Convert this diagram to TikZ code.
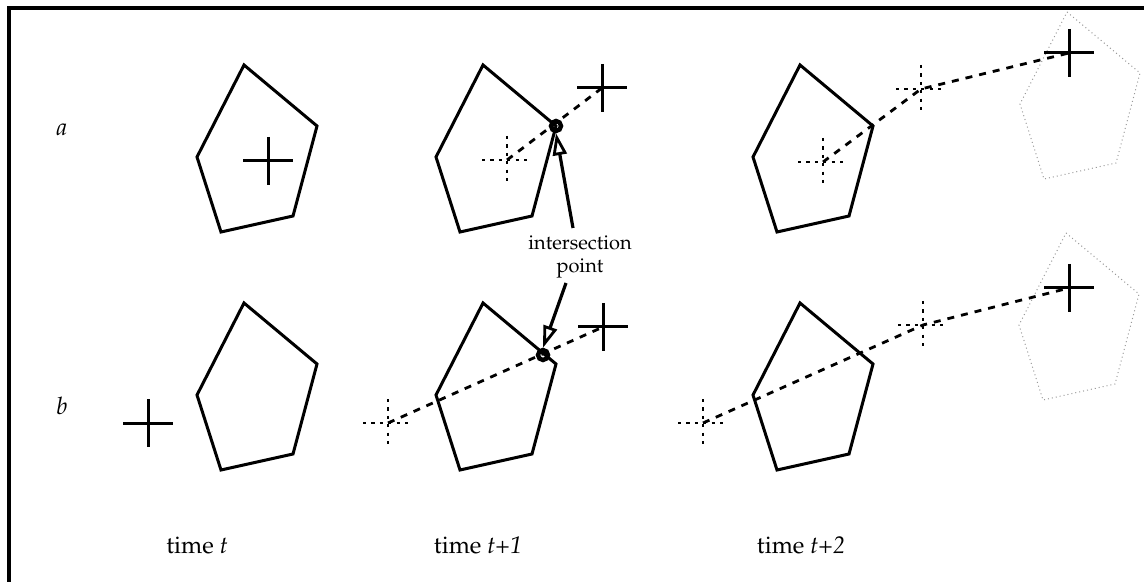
\documentclass[tikz,border=0pt]{standalone}
\usepackage[T1]{fontenc}
\usepackage{mathpazo}
\usetikzlibrary{arrows.meta}
\begin{document}
\begin{tikzpicture}[x=0.5pt,y=-0.5pt,
  solid line/.style={line width=1.5pt, line join=miter},
  ghost/.style={draw=black!40, line width=0.5pt, dash pattern=on 0.5pt off 1.5pt},
  track/.style={line width=1.4pt, dash pattern=on 3.5pt off 3.5pt},
  dcross/.style={line width=1.3pt, dash pattern=on 1.6pt off 2.6pt},
  scross/.style={line width=1.5pt},
  hit/.style={circle, draw, line width=2.2pt, inner sep=0pt, minimum size=5pt},
  pointer/.style={line width=1.6pt, -{Triangle[open, length=11pt, width=7pt, line width=1.4pt]}},
  lbl/.style={font=\fontsize{10}{11.5}\selectfont, inner sep=0pt},
  big/.style={font=\fontsize{12}{14}\selectfont, inner sep=0pt},
  pentagon/.pic={
    \coordinate (-top) at (0,0);
    \coordinate (-right) at (73,61);
    \draw[pic actions] (0,0) -- (73,61) -- (49,151) -- (-23,167) -- (-47,92) -- cycle;
  },
  cross/.pic={
    \coordinate (-c) at (0,0);
    \draw[pic actions] (-25,0) -- (25,0) (0,-24) -- (0,24);
  }]
\useasboundingbox (0,0) rectangle (1144,582);
% frame (top and left edges)
\coordinate (fl) at (9,582);
\coordinate (fc) at (9,8);
\coordinate (fr) at (1144,8);
\draw[line width=1.6pt] (fl) -- (fc) -- (fr);

% row labels
\node[big, font=\fontsize{12}{14}\selectfont\itshape] (la) at (62,130) {a};
\node[big, font=\fontsize{12}{14}\selectfont\itshape] (lb) at (62,406) {b};

% column labels
\node[big, anchor=base] (t0) at (197,553) {time \textit{t}};
\node[big, anchor=base] (t1) at (478,553) {time \textit{t+1}};
\node[big, anchor=base] (t2) at (801,553) {time \textit{t+2}};

% ---------------- row a ----------------
\pic[solid line] (pa0) at (244,65) {pentagon};
\pic[scross] (ca0) at (268,161) {cross};

\pic[solid line] (pa1) at (483,65) {pentagon};
\pic[dcross] (da1) at (507,160) {cross};
\pic[scross] (ca1) at (602,88) {cross};
\draw[track] (da1-c) -- (ca1-c);
\node[hit] (ia) at (pa1-right) {};

\pic[solid line] (pa2) at (800,65) {pentagon};
\pic[ghost] (ga2) at (1067,12) {pentagon};
\pic[dcross] (da2) at (823,162) {cross};
\pic[dcross] (ma2) at (921,89) {cross};
\pic[scross] (ca2) at (1069,53) {cross};
\draw[track] (da2-c) -- (ma2-c) -- (ca2-c);

% ---------------- row b ----------------
\pic[solid line] (pb0) at (244,303) {pentagon};
\pic[scross] (cb0) at (148,423) {cross};

\pic[solid line] (pb1) at (483,303) {pentagon};
\pic[dcross] (db1) at (388,423) {cross};
\pic[scross] (cb1) at (603,327) {cross};
\draw[track] (db1-c) -- (cb1-c);
\node[hit] (ib) at (543,355) {};

\pic[solid line] (pb2) at (800,303) {pentagon};
\pic[ghost] (gb2) at (1066,233) {pentagon};
\pic[dcross] (db2) at (703,423) {cross};
\pic[dcross] (mb2) at (923,325) {cross};
\pic[scross] (cb2) at (1069,288) {cross};
\draw[track] (db2-c) -- (mb2-c) -- (cb2-c);

% intersection label and pointers
\node[lbl, align=center] (ip) at (580,257) {intersection\\point};
\coordinate (pa) at (573,228);
\coordinate (pb) at (566,283);
\draw[pointer] (pa) -- (ia.south);
\draw[pointer] (pb) -- (ib.north);
\end{tikzpicture}
\end{document}
